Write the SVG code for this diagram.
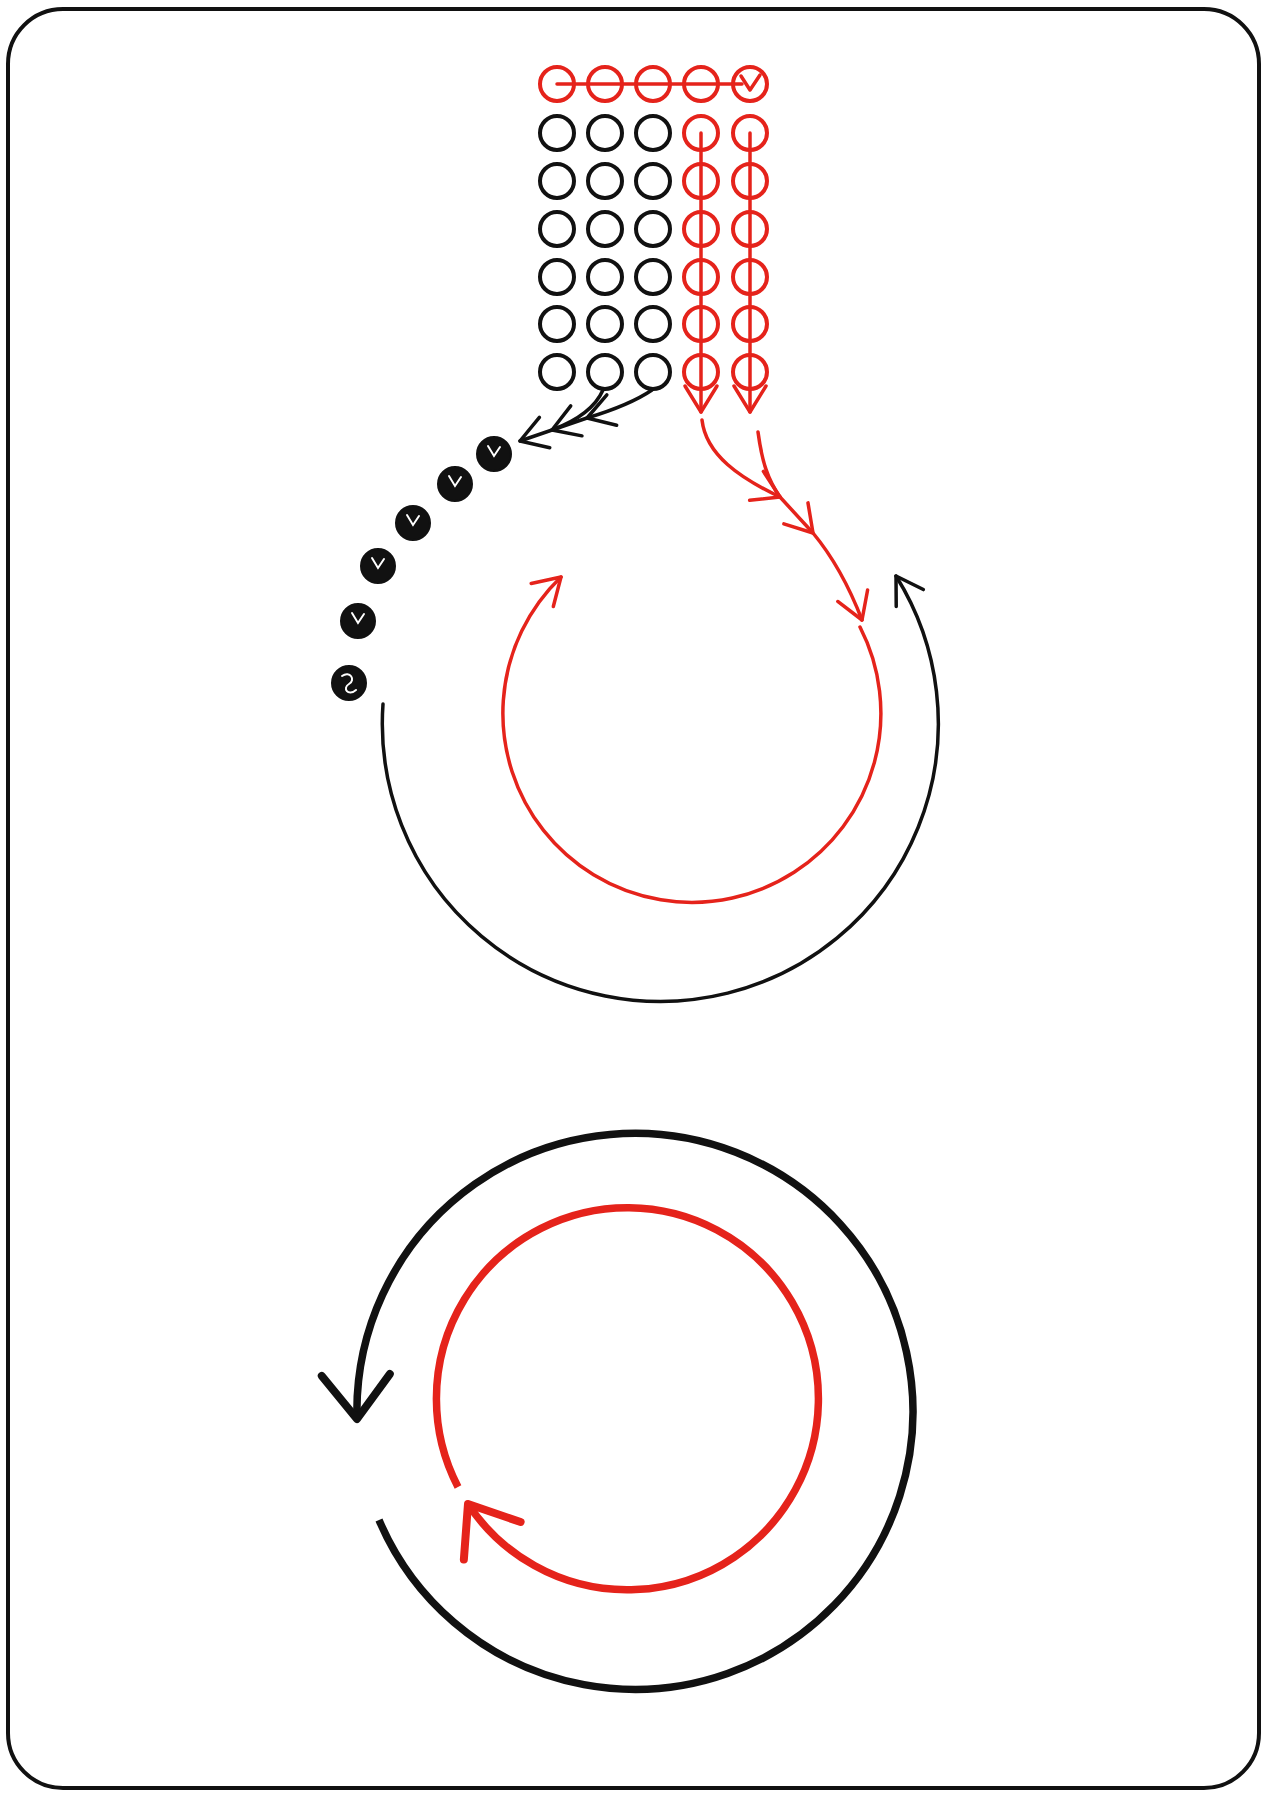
<svg xmlns="http://www.w3.org/2000/svg" width="1276" height="1794" viewBox="0 0 1276 1794">
<style>
.frame{fill:#fff;stroke:#111;stroke-width:4}
.ok{fill:none;stroke:#111;stroke-width:4}
.or{fill:none;stroke:#e5231b;stroke-width:4}
.fb{fill:#111;stroke:#111;stroke-width:2}
.mk{fill:none;stroke:#fff;stroke-width:2;stroke-linecap:round}
.lr{fill:none;stroke:#e5231b;stroke-width:3.5;stroke-linecap:round;stroke-linejoin:round}
.lk{fill:none;stroke:#111;stroke-width:3.5;stroke-linecap:round;stroke-linejoin:round}
.br{fill:none;stroke:#e5231b;stroke-width:7.5;stroke-linecap:butt}
.bk{fill:none;stroke:#111;stroke-width:7.5;stroke-linecap:butt}
</style>
<defs>
<marker id="ar" markerUnits="userSpaceOnUse" viewBox="-40 -30 44 60" refX="0" refY="0" markerWidth="44" markerHeight="60" orient="auto" overflow="visible"><path d="M-26,-16 L0,0 L-26,16" fill="none" stroke="#e5231b" stroke-width="3.5" stroke-linecap="round" stroke-linejoin="round"/></marker>
<marker id="ak" markerUnits="userSpaceOnUse" viewBox="-40 -30 44 60" refX="0" refY="0" markerWidth="44" markerHeight="60" orient="auto" overflow="visible"><path d="M-26,-16 L0,0 L-26,16" fill="none" stroke="#111" stroke-width="3.5" stroke-linecap="round" stroke-linejoin="round"/></marker>
<marker id="akb" markerUnits="userSpaceOnUse" viewBox="-60 -45 64 90" refX="0" refY="0" markerWidth="64" markerHeight="90" orient="auto" overflow="visible"><path d="M-44,-34 L0,0 L-44,34" fill="none" stroke="#111" stroke-width="8" stroke-linecap="round" stroke-linejoin="round"/></marker>
<marker id="arb" markerUnits="userSpaceOnUse" viewBox="-60 -45 64 90" refX="0" refY="0" markerWidth="64" markerHeight="90" orient="auto" overflow="visible"><path d="M-44,-34 L0,0 L-44,34" fill="none" stroke="#e5231b" stroke-width="8" stroke-linecap="round" stroke-linejoin="round"/></marker>
</defs>

<rect class="frame" x="8" y="9" width="1251" height="1779" rx="55" ry="55"/>

<g id="grid">
<g id="row1" class="or">
<circle cx="557" cy="84" r="17"/><circle cx="605" cy="84" r="17"/><circle cx="653" cy="84" r="17"/><circle cx="701" cy="84" r="17"/><circle cx="750" cy="84" r="17"/>
</g>
<g id="black-cols" class="ok">
<circle cx="557" cy="133" r="17"/><circle cx="605" cy="133" r="17"/><circle cx="653" cy="133" r="17"/>
<circle cx="557" cy="181" r="17"/><circle cx="605" cy="181" r="17"/><circle cx="653" cy="181" r="17"/>
<circle cx="557" cy="229" r="17"/><circle cx="605" cy="229" r="17"/><circle cx="653" cy="229" r="17"/>
<circle cx="557" cy="277" r="17"/><circle cx="605" cy="277" r="17"/><circle cx="653" cy="277" r="17"/>
<circle cx="557" cy="324" r="17"/><circle cx="605" cy="324" r="17"/><circle cx="653" cy="324" r="17"/>
<circle cx="557" cy="372" r="17"/><circle cx="605" cy="372" r="17"/><circle cx="653" cy="372" r="17"/>
</g>
<g id="red-cols" class="or">
<circle cx="701" cy="133" r="17"/><circle cx="750" cy="133" r="17"/>
<circle cx="701" cy="181" r="17"/><circle cx="750" cy="181" r="17"/>
<circle cx="701" cy="229" r="17"/><circle cx="750" cy="229" r="17"/>
<circle cx="701" cy="277" r="17"/><circle cx="750" cy="277" r="17"/>
<circle cx="701" cy="324" r="17"/><circle cx="750" cy="324" r="17"/>
<circle cx="701" cy="372" r="17"/><circle cx="750" cy="372" r="17"/>
</g>
</g>

<g id="filled">
<g id="f1"><circle class="fb" cx="494" cy="454" r="17"/><path class="mk" d="M488,446 L494,456 L500,447"/></g>
<g id="f2"><circle class="fb" cx="455" cy="484" r="17"/><path class="mk" d="M449,476 L455,486 L461,477"/></g>
<g id="f3"><circle class="fb" cx="413" cy="523" r="17"/><path class="mk" d="M407,515 L413,525 L419,516"/></g>
<g id="f4"><circle class="fb" cx="378" cy="566" r="17"/><path class="mk" d="M372,558 L378,568 L384,559"/></g>
<g id="f5"><circle class="fb" cx="358" cy="621" r="17"/><path class="mk" d="M352,613 L358,623 L364,614"/></g>
<g id="f6"><circle class="fb" cx="349" cy="683" r="17"/><path class="mk" d="M342,676 C350,670 356,680 349,684 C342,688 348,697 356,690"/></g>
</g>

<g id="connectors">
<path class="lr" d="M557,84 L742,84"/>
<path class="lr" d="M741,76 L750,90 L760,75"/>
<path class="lr" d="M701,133 L701,412" marker-end="url(#ar)"/>
<path class="lr" d="M750,133 L750,412" marker-end="url(#ar)"/>
<path class="lk" d="M603,390 Q592,415 552,430" marker-end="url(#ak)"/>
<path class="lk" d="M652,390 Q630,405 587,418 L520,441" marker-mid="url(#ak)" marker-end="url(#ak)"/>
<path class="lr" d="M702,420 C706,455 740,478 780,497" marker-end="url(#ar)"/>
<path class="lr" d="M758,432 C762,462 768,480 780,497"/>
<path class="lr" d="M780,497 L813,533 Q842,568 862,620" marker-mid="url(#ar)" marker-end="url(#ar)"/>
<path class="lr" d="M860,627 A189,189 0 1 1 561,577" marker-end="url(#ar)"/>
<path class="lk" d="M383,704 A278,278 0 1 0 896,576" marker-end="url(#ak)"/>
<path class="bk" d="M379,1520 A278,278 0 1 0 357,1419" marker-end="url(#akb)"/>
<path class="br" d="M458,1487 A191,191 0 1 1 468,1504" marker-end="url(#arb)"/>
</g>
</svg>
